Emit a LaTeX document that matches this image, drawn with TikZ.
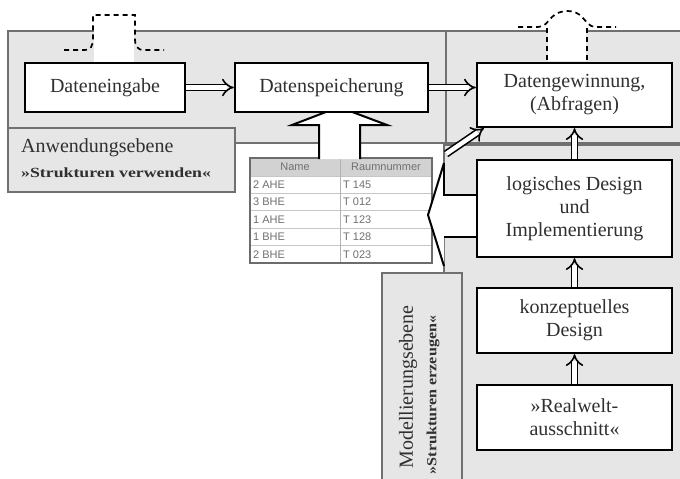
\documentclass[tikz,border=0pt]{standalone}
\usepackage{fontspec}
\setmainfont{Liberation Serif}
\newfontfamily\tabfont{Liberation Sans}
\usetikzlibrary{arrows.meta}
\definecolor{panelgray}{HTML}{E6E6E6}
\definecolor{panelline}{HTML}{707070}
\definecolor{txt}{HTML}{303030}
\definecolor{tabtext}{HTML}{707070}
\begin{document}
\begin{tikzpicture}[x=1pt,y=-1pt,
  panel/.style={fill=panelgray, draw=panelline, line width=1.3pt},
  procbox/.style={draw=black, fill=white, line width=2.4pt, text=txt, align=center,
    font=\fontsize{20}{23}\selectfont, inner sep=0pt},
  dbl/.style={double=white, double distance=4.4pt, line width=1.6pt, -{Implies}},
  loopline/.style={dash pattern=on 5pt off 4pt, line width=1.7pt},
  labtxt/.style={text=txt, font=\fontsize{20}{23}\selectfont, inner sep=0pt},
  subtxt/.style={text=txt, font=\bfseries\fontsize{14}{16}\selectfont, inner sep=0pt},
  tabtxt/.style={text=tabtext, font=\tabfont\fontsize{11}{13}\selectfont, inner sep=0pt}
]
\useasboundingbox (0,0) rectangle (680,479);
\fill[white] (0,0) rectangle (680,479);

% panels
\draw[panel] (8,31) rectangle (446,143);
\draw[panel] (446,31) rectangle (690,143);
\draw[panel] (444,145) rectangle (690,490);
\draw[panel] (8,128) rectangle (235,192);
\draw[panel] (382,273) rectangle (462,490);

% panel labels
\node[labtxt, anchor=west] (anw) at (21,148) {Anwendungsebene};
\node[subtxt, anchor=west] (anws) at (21,173) {\scalebox{1.27}[1]{»Strukturen verwenden«}};
\node[labtxt, rotate=90] (mod) at (408,387) {Modellierungsebene};
\node[subtxt, rotate=90] (mods) at (433,395) {\scalebox{1.15}[1]{»Strukturen erzeugen«}};

% table
\draw[fill=white, draw=gray!85!black, line width=1.3pt] (250,158) rectangle (432,263);
\fill[gray!35] (251,159) rectangle (431,176);
\foreach \yy in {176,193.4,210.8,228.2,245.6} \draw[gray!45, line width=0.7pt] (251,\yy) -- (431,\yy);
\draw[gray!60, line width=0.7pt] (340,159) -- (340,262);
\node[tabtxt] (hname) at (295,167) {Name};
\node[tabtxt] (hraum) at (386,167) {Raumnummer};
\node[tabtxt, anchor=west] (r1a) at (253,184.7) {2 AHE};
\node[tabtxt, anchor=west] (r2a) at (253,202.1) {3 BHE};
\node[tabtxt, anchor=west] (r3a) at (253,219.5) {1 AHE};
\node[tabtxt, anchor=west] (r4a) at (253,236.9) {1 BHE};
\node[tabtxt, anchor=west] (r5a) at (253,254.3) {2 BHE};
\node[tabtxt, anchor=west] (r1b) at (343,184.7) {T 145};
\node[tabtxt, anchor=west] (r2b) at (343,202.1) {T 012};
\node[tabtxt, anchor=west] (r3b) at (343,219.5) {T 123};
\node[tabtxt, anchor=west] (r4b) at (343,236.9) {T 128};
\node[tabtxt, anchor=west] (r5b) at (343,254.3) {T 023};

% big up arrow table -> Datenspeicherung
\draw[fill=white, line width=2pt, line join=miter]
  (319,159) -- (319,125) -- (292,125) -- (339,107) -- (387,125) -- (360,125) -- (360,159);

% wedge from logisches Design to table
\fill[white] (477,195) -- (444,195) -- (444,166) -- (428,215) -- (444,264) -- (444,237) -- (477,237) -- cycle;
\draw[line width=2pt] (477,195) -- (444,195) -- (444,163);
\draw[line width=2pt] (444,163) -- (428,215) -- (444,266);
\draw[line width=2pt] (477,237) -- (444,237);

% boxes
\node[procbox, minimum width=160pt, minimum height=49pt] (de) at (105,87.5) {Dateneingabe};
\node[procbox, minimum width=193pt, minimum height=49pt] (ds) at (331.5,87.5) {Datenspeicherung};
\node[procbox, minimum width=195pt, minimum height=64pt] (dg) at (574.5,95) {Datengewinnung,\\(Abfragen)};
\node[procbox, minimum width=195pt, minimum height=97pt] (ld) at (574.5,208.5) {logisches Design\\und\\Implementierung};
\node[procbox, minimum width=195pt, minimum height=65pt] (kd) at (574.5,320.5) {konzeptuelles\\Design};
\node[procbox, minimum width=195pt, minimum height=65pt] (rw) at (574.5,417.5) {»Realwelt-\\ausschnitt«};

% arrows
\draw[dbl] (de.east) -- (ds.west);
\draw[dbl] (ds.east) -- (dg.west |- ds.east);
\draw[dbl] (ld.north) -- (dg.south);
\draw[dbl] (kd.north) -- (ld.south);
\draw[dbl] (rw.north) -- (kd.south);
\coordinate (dstart) at (446,154);
\draw[dbl] (dstart) -- ([shift={(8pt,0pt)}]dg.south west);

% dashed loops
\fill[white] (94,14) rectangle (134,62);
\draw[loopline] (64,50) -- (84,50) .. controls (91,50) and (93,46) .. (93,38) -- (93,15) -- (135,15) -- (135,38) .. controls (135,46) and (137,50) .. (144,50) -- (164,50);
\fill[white] (548,16) rectangle (586,61);
\fill[white] (552,17) .. controls (560,9) and (575,9) .. (582,17) -- cycle;
\draw[loopline] (518,27) -- (538,27) .. controls (545,27) and (547,22) .. (552,17) .. controls (560,9) and (575,9) .. (582,17) .. controls (587,22) and (589,27) .. (596,27) -- (616,27);
\draw[loopline] (547,28) -- (547,62);
\draw[loopline] (587,28) -- (587,62);
\end{tikzpicture}
\end{document}
